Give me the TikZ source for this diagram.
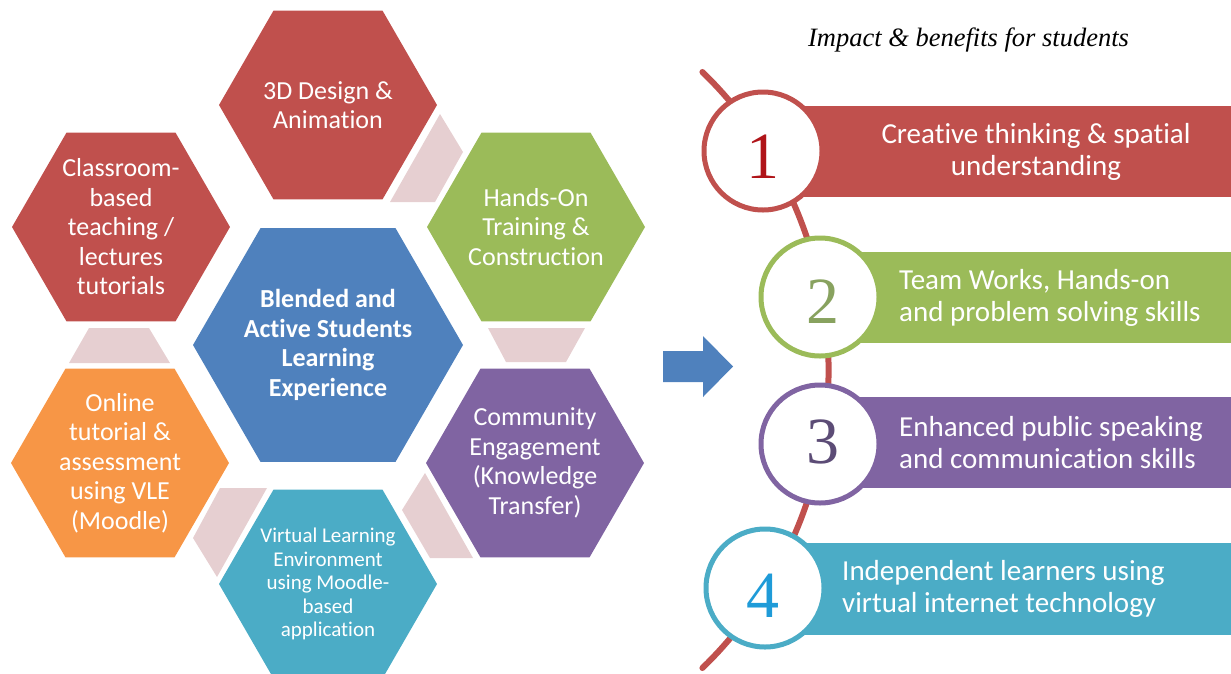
\documentclass[tikz,border=0pt]{standalone}
\usepackage{fontspec}
\setmainfont{Carlito}[Ligatures=NoCommon]
\newfontfamily\serifface{Liberation Serif}
\usetikzlibrary{shapes.geometric}

\definecolor{hexred}{HTML}{C0504D}
\definecolor{hexgreen}{HTML}{9BBB59}
\definecolor{hexpurple}{HTML}{8064A2}
\definecolor{hexblue}{HTML}{4F81BD}
\definecolor{hexorange}{HTML}{F79646}
\definecolor{hexteal}{HTML}{4BACC6}
\definecolor{bridgepink}{HTML}{E6CFD1}
\definecolor{digitred}{HTML}{B01419}
\definecolor{digitgreen}{HTML}{88A25F}
\definecolor{digitpurple}{HTML}{5C4C76}
\definecolor{digitblue}{HTML}{1F9BD8}

\begin{document}
\begin{tikzpicture}[x=1pt,y=-1pt,
  hexa/.style={regular polygon, regular polygon sides=6, inner sep=0pt, outer sep=0pt, draw=none},
  smallhex/.style={hexa, minimum size=218pt},
  bighex/.style={hexa, minimum size=270pt},
  hextext/.style={text=white, align=center, inner sep=0pt, font=\fontsize{26}{29.5}\selectfont},
  smalltext/.style={text=white, align=center, inner sep=0pt, font=\fontsize{21}{23.5}\selectfont},
  bridge/.style={fill=bridgepink},
  ring/.style={circle, draw, line width=5pt, fill=white, minimum size=118pt, inner sep=0pt},
  digit/.style={anchor=base, inner sep=0pt, font=\serifface\fontsize{66}{70}\selectfont},
  bandtext/.style={text=white, inner sep=0pt, font=\fontsize{29}{32}\selectfont},
]
\useasboundingbox (0,0) rectangle (1231,673);

% bridges between neighbouring hexagons
\fill[bridge] (440,114) -- (463,152) -- (435,202) -- (390,202) -- cycle;
\fill[bridge] (488,328) -- (585,328) -- (566,362) -- (506,362) -- cycle;
\fill[bridge] (89,328) -- (149,328) -- (170,363) -- (69,363) -- cycle;
\fill[bridge] (425,473) -- (402,510) -- (430,558) -- (473,558) -- cycle;
\fill[bridge] (220,488) -- (267,488) -- (217,577) -- (193,538) -- cycle;

% hexagons
\node[smallhex, fill=hexred]    (h3d)    at (328,105) {};
\node[smallhex, fill=hexred]    (hclass) at (121,227) {};
\node[smallhex, fill=hexgreen]  (hhands) at (536,227) {};
\node[bighex,   fill=hexblue]   (hcore)  at (328,345) {};
\node[smallhex, fill=hexorange] (honline) at (120,463) {};
\node[smallhex, fill=hexpurple] (hcomm)  at (535,463) {};
\node[smallhex, fill=hexteal]   (hvle)   at (328,584) {};

\node[hextext] (t3d) at (h3d) {3D Design \&\\Animation};
\node[hextext] (tclass) at (hclass) {Classroom-\\based\\teaching /\\lectures\\tutorials};
\node[hextext] (thands) at (hhands) {Hands-On\\Training \&\\Construction};
\node[hextext, font=\bfseries\fontsize{26}{29.5}\selectfont] (tcore) at (hcore) {Blended and\\Active Students\\Learning\\Experience};
\node[hextext] (tonline) at (honline) {Online\\tutorial \&\\assessment\\using VLE\\(Moodle)};
\node[hextext] (tcomm) at (hcomm) {Community\\Engagement\\(Knowledge\\Transfer)};
\node[smalltext] (tvle) at (hvle) {Virtual Learning\\Environment\\using Moodle-\\based\\application};

% block arrow
\fill[hexblue] (663,351) -- (703,351) -- (703,336) -- (733,366.5) -- (703,397) -- (703,382) -- (663,382) -- cycle;

% heading
\node[anchor=base, inner sep=0pt, font=\serifface\itshape\fontsize{26.5}{30}\selectfont] (title) at (968.5,46) {Impact \& benefits for students};

% spine through the numbered rings
\draw[hexred, line width=6pt, line cap=round]
  plot[domain=-45.9:45.9, samples=90] ({413.6+415*cos(\x)},{370+415*sin(\x)});

% bands
\fill[hexred]    (763,106) rectangle (1231,197);
\fill[hexgreen]  (820,252) rectangle (1231,343);
\fill[hexpurple] (820,397) rectangle (1231,488);
\fill[hexteal]   (765,543) rectangle (1231,635);

\node[bandtext, align=center] (b1) at (1036,151.5) {Creative thinking \& spatial\\understanding};
\node[bandtext, align=left, anchor=west] (b2) at (899,297.5) {Team Works, Hands-on\\and problem solving skills};
\node[bandtext, align=left, anchor=west] (b3) at (899,442.5) {Enhanced public speaking\\and communication skills};
\node[bandtext, align=left, anchor=west] (b4) at (842,589) {Independent learners using\\virtual internet technology};

% numbered rings
\node[ring, draw=hexred]    (r1) at (763,151) {};
\node[ring, draw=hexgreen]  (r2) at (820,297) {};
\node[ring, draw=hexpurple] (r3) at (820,444) {};
\node[ring, draw=hexteal]   (r4) at (765,588) {};

\node[digit, text=digitred]    (n1) at (763,178) {1};
\node[digit, text=digitgreen]  (n2) at (823,323) {2};
\node[digit, text=digitpurple] (n3) at (823,463) {3};
\node[digit, text=digitblue]   (n4) at (763,617) {4};
\end{tikzpicture}
\end{document}
